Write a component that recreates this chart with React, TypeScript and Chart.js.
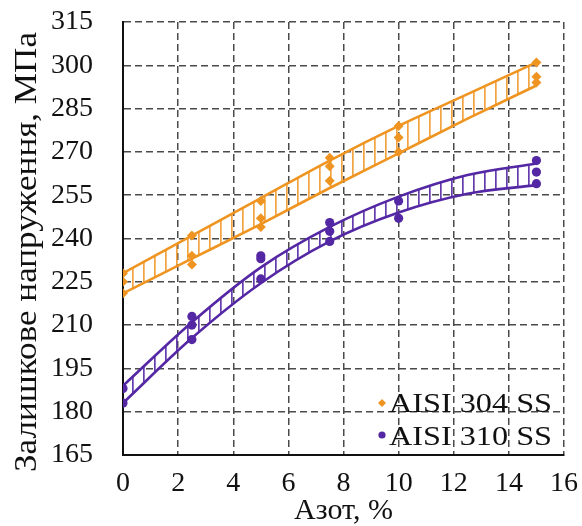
import React, { useEffect, useRef } from 'react';
import { Chart, registerables } from 'chart.js';

Chart.register(...registerables);

// ---- data ----
const nitrogen = [0, 2.5, 5, 7.5, 10, 15];
const s304a = [228, 241, 253, 268, 279, 301];
const s304b = [225, 234, 247, 265, 275, 296];
const s304c = [221, 231, 244, 260, 270, 294];
const s310a = [188, 213, 234, 245.5, 253, 267];
const s310b = [183, 210, 233, 242.5, 247, 263];
const s310c: (number | null)[] = [null, 205, 226, 239, null, 259];

const bandX = [0, 2.5, 5, 7.5, 10, 12.5, 15];
const upper304 = [228, 241, 254, 267, 279, 290, 301];
const lower304 = [221, 233, 245, 257.5, 269.5, 281.5, 293];
const upper310 = [189, 211, 230, 244, 254.5, 262, 266];
const lower310 = [183, 205.5, 224.5, 239, 249, 255.5, 258.5];

const xMin = 0, xMax = 16, xStep = 2;
const yMin = 165, yMax = 315, yStep = 15;
const xTitle = 'Азот, %';
const yTitle = 'Залишкове напруження, МПа';
const seriesNames = ['AISI 304 SS', 'AISI 310 SS'];

// ---- styles ----
const ORANGE = '#EF9420';
const PURPLE = '#5427A4';
const ORANGE_HATCH = 'rgba(239,148,32,0.85)';
const PURPLE_HATCH = 'rgba(84,39,164,0.9)';
const SERIF = '"Liberation Serif", "Times New Roman", serif';

const pts = (xs: number[], ...cols: (number | null)[][]) =>
  xs.flatMap((x, i) => cols.map((c) => c[i]).filter((v) => v != null).map((y) => ({ x, y: y as number })));
const line = (xs: number[], ys: number[]) => xs.map((x, i) => ({ x, y: ys[i] }));

function makeHatch(ctx: CanvasRenderingContext2D, color: string) {
  const c = document.createElement('canvas');
  c.width = 11;
  c.height = 8;
  const g = c.getContext('2d')!;
  g.fillStyle = color;
  g.fillRect(0, 0, 1.7, 8);
  return ctx.createPattern(c, 'repeat')!;
}

// y-axis title, drawn rotated and slightly stretched like the reference
const yTitlePlugin = {
  id: 'yTitle',
  afterDraw(chart: any) {
    const ctx: CanvasRenderingContext2D = chart.ctx;
    ctx.save();
    ctx.font = `32px ${SERIF}`;
    ctx.fillStyle = '#111';
    ctx.textAlign = 'center';
    ctx.textBaseline = 'alphabetic';
    const w = ctx.measureText(yTitle).width;
    ctx.translate(36, 252);
    ctx.rotate(-Math.PI / 2);
    ctx.scale(440 / w, 1);
    ctx.fillText(yTitle, 0, 0);
    ctx.restore();
  },
};

const insideLegend = {
  id: 'insideLegend',
  afterDraw(chart: any) {
    const ctx: CanvasRenderingContext2D = chart.ctx;
    const rows = [
      { label: seriesNames[0], color: ORANGE, shape: 'diamond', my: 403, base: 411.5 },
      { label: seriesNames[1], color: PURPLE, shape: 'circle', my: 435, base: 445 },
    ];
    ctx.save();
    ctx.font = `28px ${SERIF}`;
    ctx.textBaseline = 'alphabetic';
    ctx.textAlign = 'left';
    for (const r of rows) {
      ctx.fillStyle = r.color;
      ctx.beginPath();
      if (r.shape === 'diamond') {
        const mx = 382, s = 4;
        ctx.moveTo(mx, r.my - s);
        ctx.lineTo(mx + s, r.my);
        ctx.lineTo(mx, r.my + s);
        ctx.lineTo(mx - s, r.my);
        ctx.closePath();
      } else {
        ctx.arc(382, r.my, 3.6, 0, Math.PI * 2);
      }
      ctx.fill();
      const w = ctx.measureText(r.label).width;
      const sx = 163 / w;
      ctx.save();
      ctx.translate(389, r.base);
      ctx.scale(sx, 1);
      ctx.fillStyle = '#111';
      ctx.fillText(r.label, 0, 0);
      ctx.restore();
    }
    ctx.restore();
  },
};

export default function App() {
  const ref = useRef<HTMLCanvasElement>(null);
  useEffect(() => {
    const canvas = ref.current!;
    const ctx = canvas.getContext('2d')!;
    const hatch304 = makeHatch(ctx, ORANGE_HATCH);
    const hatch310 = makeHatch(ctx, PURPLE_HATCH);
    const lineDs = (data: any, color: string, fill: any, bg: any) => ({
      type: 'line',
      data,
      borderColor: color,
      borderWidth: 2.6,
      pointRadius: 0,
      cubicInterpolationMode: 'monotone',
      fill,
      backgroundColor: bg,
      order: 2,
    });
    const chart = new Chart(canvas, {
      type: 'scatter',
      data: {
        datasets: [
          lineDs(line(bandX, upper304), ORANGE, false, 'transparent'),
          lineDs(line(bandX, lower304), ORANGE, '-1', hatch304),
          lineDs(line(bandX, upper310), PURPLE, false, 'transparent'),
          lineDs(line(bandX, lower310), PURPLE, '-1', hatch310),
          {
            label: seriesNames[0],
            data: pts(nitrogen, s304a, s304b, s304c),
            pointStyle: 'rectRot',
            pointRadius: 5,
            backgroundColor: ORANGE,
            borderColor: ORANGE,
            borderWidth: 0,
            order: 0,
          },
          {
            label: seriesNames[1],
            data: pts(nitrogen, s310a, s310b, s310c),
            pointStyle: 'circle',
            pointRadius: 4.6,
            backgroundColor: PURPLE,
            borderColor: PURPLE,
            borderWidth: 0,
            order: 0,
          },
        ] as any,
      },
      options: {
        animation: false,
        responsive: false,
        devicePixelRatio: 1,
        layout: { padding: { left: 0, right: 18, top: 22, bottom: 0 } },
        plugins: { legend: { display: false }, tooltip: { enabled: false } },
        scales: {
          x: {
            type: 'linear',
            min: xMin,
            max: xMax,
            ticks: { stepSize: xStep, color: '#111', font: { family: SERIF, size: 28 }, padding: 12, maxRotation: 0 },
            grid: { color: '#4a4a4a', lineWidth: 1.5, drawTicks: false },
            border: { display: true, color: '#111', width: 2, dash: [7, 4] },
            title: { display: true, text: xTitle, color: '#111', font: { family: SERIF, size: 30, lineHeight: 1 }, padding: { top: 0, bottom: 0 } },
            afterFit: (s: any) => { s.height = 71; s.paddingLeft = 0; s.paddingRight = 0; },
          },
          y: {
            type: 'linear',
            min: yMin,
            max: yMax,
            ticks: { stepSize: yStep, color: '#111', font: { family: SERIF, size: 28 }, padding: 30 },
            grid: { color: '#4a4a4a', lineWidth: 1.5, drawTicks: false },
            border: { display: true, color: '#111', width: 2, dash: [7, 4] },
            title: { display: false },
            afterFit: (s: any) => { s.width = 123; s.paddingTop = 0; s.paddingBottom = 0; },
          },
        },
      } as any,
      plugins: [insideLegend, yTitlePlugin],
    });
    return () => chart.destroy();
  }, []);
  return (
    <div style={{ position: 'fixed', left: 0, top: 0, width: 582, height: 526, background: '#fff' }}>
      <canvas ref={ref} width={582} height={526} style={{ width: 582, height: 526, display: 'block' }} />
    </div>
  );
}
